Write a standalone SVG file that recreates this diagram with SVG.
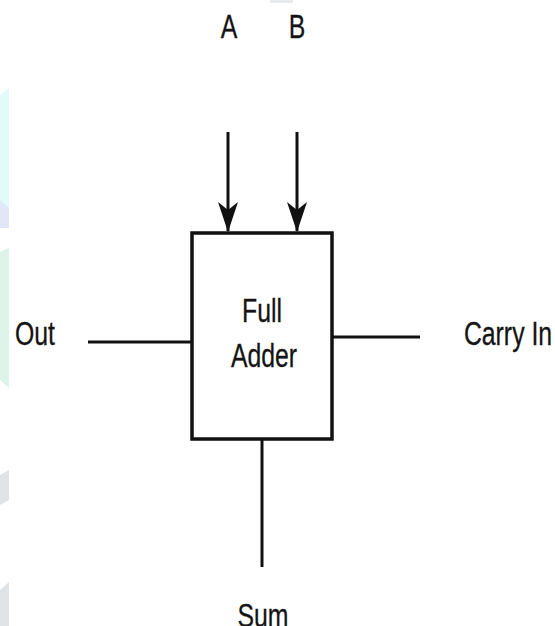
<svg xmlns="http://www.w3.org/2000/svg" width="555" height="626" viewBox="0 0 555 626">
<style>
.lbl{font-family:"Liberation Sans",Arial,sans-serif;font-size:34px;fill:#141414;stroke:#141414;stroke-width:0.3;text-anchor:middle}
.wire{stroke:#111;stroke-width:3;fill:none}
.box{stroke:#111;stroke-width:3.5;fill:#fff}
</style>
<defs>
<marker id="arr" markerUnits="userSpaceOnUse" markerWidth="30" markerHeight="22" refX="29" refY="10" orient="auto" viewBox="0 0 30 20">
<path d="M0,0 L8,10 L0,20 L30,10 Z" fill="#111"/>
</marker>
</defs>
<rect width="555" height="626" fill="#fff"/>
<g id="watermark" opacity="0.85">
<polygon points="0,95 9,88 9,228 0,220" fill="#dcfbfb"/>
<polygon points="0,200 9,208 9,228 0,228" fill="#dde3f7"/>
<polygon points="0,252 9,248 9,388 0,380" fill="#d9f2e6"/>
<polygon points="0,475 9,470 9,500 0,505" fill="#dcdfe2"/>
<polygon points="0,590 9,582 9,626 0,626" fill="#dcdfe2"/>
<rect x="270" y="0" width="23" height="3" fill="#e3e8ec"/>
</g>
<g id="connectors">
<line class="wire" x1="228" y1="132" x2="228" y2="231" marker-end="url(#arr)"/>
<line class="wire" x1="297" y1="132" x2="297" y2="231" marker-end="url(#arr)"/>
<line class="wire" x1="88" y1="342" x2="192" y2="342"/>
<line class="wire" x1="332" y1="337" x2="420" y2="337"/>
<line class="wire" x1="262" y1="439" x2="262" y2="567"/>
</g>
<g id="full-adder">
<rect class="box" x="192" y="233" width="140" height="206"/>
<text class="lbl" transform="translate(262,322) scale(0.73,1)">Full</text>
<text class="lbl" transform="translate(264,367) scale(0.73,1)">Adder</text>
</g>
<g id="label-a"><text class="lbl" transform="translate(229,38) scale(0.73,1)">A</text></g>
<g id="label-b"><text class="lbl" transform="translate(297,38) scale(0.73,1)">B</text></g>
<g id="label-out"><text class="lbl" transform="translate(35,345) scale(0.73,1)">Out</text></g>
<g id="label-carry-in"><text class="lbl" transform="translate(508,345) scale(0.73,1)">Carry In</text></g>
<g id="label-sum"><text class="lbl" transform="translate(263,627) scale(0.73,1)">Sum</text></g>
</svg>
